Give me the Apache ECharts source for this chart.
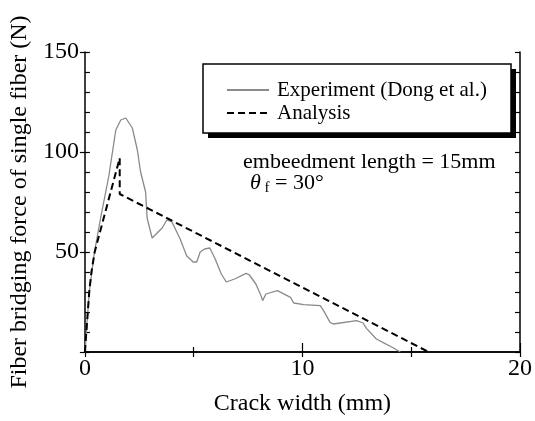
<!DOCTYPE html>
<html>
<head>
<meta charset="utf-8">
<script src="https://cdn.jsdelivr.net/npm/echarts@6/dist/echarts.min.js"></script>
<style>
  html, body { margin: 0; padding: 0; background: #fff; }
  #main { width: 535px; height: 421px; }
</style>
</head>
<body>
<div id="main"></div>
<script>
var dom = document.getElementById('main');
var chart = echarts.init(dom, null, { renderer: 'canvas' });

var FONT = '"Liberation Serif", "Times New Roman", serif';

// experiment (Dong et al.)
var expX = [0, 0.2, 0.44, 0.74, 1.1, 1.42, 1.65, 1.88, 2.18, 2.41, 2.56, 2.79, 2.86, 3.09, 3.55, 3.77, 4.0, 4.38, 4.68, 4.98, 5.14, 5.3, 5.5, 5.74, 5.97, 6.27, 6.5, 6.88, 7.41, 7.56, 7.86, 8.1, 8.17, 8.32, 8.85, 9.45, 9.6, 10.06, 10.82, 10.97, 11.27, 11.42, 12.49, 12.79, 12.94, 13.4, 13.8, 14.1, 14.5];
var expY = [0, 30, 50, 68, 88, 111, 116, 117, 112, 101, 90, 80, 67, 57, 62, 66, 65, 56.5, 48, 45, 45, 50, 51.5, 52, 47, 39, 35, 36.5, 39.3, 38.5, 34, 28, 25.7, 29, 30.7, 27.3, 24.5, 23.7, 23.2, 20.7, 14.8, 14, 15.7, 14.5, 11.8, 6.5, 4.2, 2.5, 0];

// analysis
var anaX = [0, 0.1, 0.2, 0.3, 0.45, 1.6, 1.6, 15.8];
var anaY = [0, 15, 30, 40, 50, 97, 79, 0];

var xTicks = [0, 10, 20];
var yTicks = [50, 100, 150];

function pairs(xs, ys) {
  var out = [];
  for (var i = 0; i < xs.length; i++) out.push([xs[i], ys[i]]);
  return out;
}

var axisLine = { show: true, lineStyle: { color: '#000', width: 1.5 } };
var tickStyle = { color: '#000', width: 1.2 };

var option = {
  animation: false,
  backgroundColor: '#fff',
  textStyle: { fontFamily: FONT },
  grid: { left: 82, right: 13, top: 52, bottom: 68 },
  xAxis: [
    {
      type: 'value', position: 'bottom', min: 0, max: 20, interval: 10,
      name: 'Crack width (mm)', nameLocation: 'middle', nameGap: 40,
      nameTextStyle: { fontFamily: FONT, fontSize: 24, color: '#000' },
      axisLine: axisLine,
      axisTick: { inside: true, length: 9, lineStyle: tickStyle },
      minorTick: { show: true, splitNumber: 2, length: 5, lineStyle: tickStyle },
      axisLabel: {
        fontFamily: FONT, fontSize: 24, color: '#000', margin: 5,
        formatter: function (v) { return xTicks.indexOf(v) >= 0 ? String(v) : ''; }
      },
      splitLine: { show: false }
    },
    {
      type: 'value', position: 'top', min: 0, max: 20, interval: 5,
      axisLine: axisLine,
      axisTick: { inside: true, length: 5, lineStyle: tickStyle },
      axisLabel: { show: false },
      splitLine: { show: false }
    }
  ],
  yAxis: [
    {
      type: 'value', position: 'left', min: 0, max: 150, interval: 50,
      name: 'Fiber bridging force of single fiber (N)', nameLocation: 'middle', nameGap: 48,
      nameTextStyle: { fontFamily: FONT, fontSize: 24, color: '#000' },
      axisLine: axisLine,
      axisTick: { inside: false, length: 5, lineStyle: tickStyle },
      axisLabel: {
        fontFamily: FONT, fontSize: 24, color: '#000', margin: 6,
        formatter: function (v) { return yTicks.indexOf(v) >= 0 ? String(v) : ''; }
      },
      splitLine: { show: false }
    },
    {
      type: 'value', position: 'left', min: 0, max: 150, interval: 10,
      axisLine: { show: false },
      axisTick: { inside: true, length: 5, lineStyle: tickStyle },
      axisLabel: { show: false },
      splitLine: { show: false }
    },
    {
      type: 'value', position: 'right', min: 0, max: 150, interval: 10,
      axisLine: axisLine,
      axisTick: { inside: true, length: 5, lineStyle: tickStyle },
      axisLabel: { show: false },
      splitLine: { show: false }
    }
  ],
  legend: {
    z: 10,
    orient: 'vertical',
    left: 203, top: 65,
    padding: [14, 22, 10, 23],
    itemGap: 1,
    itemWidth: 42, itemHeight: 12,
    textStyle: { fontFamily: FONT, fontSize: 21, color: '#000', lineHeight: 22, padding: [0, 0, 0, 3] },
    data: [
      { name: 'Experiment (Dong et al.)', itemStyle: { opacity: 0 } },
      { name: 'Analysis', itemStyle: { opacity: 0 } }
    ]
  },
  graphic: [
    // legend frame with its solid drop shadow
    {
      type: 'rect', z: 8, silent: true,
      shape: { x: 208, y: 69, width: 308, height: 69 },
      style: { fill: '#000' }
    },
    {
      type: 'rect', z: 9, silent: true,
      shape: { x: 203, y: 64, width: 308, height: 69 },
      style: { fill: '#fff', stroke: '#000', lineWidth: 1.5 }
    },
    {
      type: 'text', left: 243, top: 151,
      style: { text: 'embeedment length = 15mm', font: '22px ' + FONT, fill: '#000' }
    },
    {
      type: 'text', left: 250, top: 172,
      style: {
        text: '{t|θ}{s| f}{n| = 30°}',
        fill: '#000',
        rich: {
          t: { fontFamily: FONT, fontSize: 22, fontStyle: 'italic', fill: '#000' },
          s: { fontFamily: FONT, fontSize: 15, fill: '#000', padding: [10, 0, 0, 0] },
          n: { fontFamily: FONT, fontSize: 22, fill: '#000' }
        }
      }
    }
  ],
  series: [
    {
      name: 'Experiment (Dong et al.)',
      type: 'line',
      data: pairs(expX, expY),
      showSymbol: false,
      symbol: 'none',
      lineStyle: { color: '#8a8a8a', width: 1.3 },
      itemStyle: { color: '#8a8a8a' }
    },
    {
      name: 'Analysis',
      type: 'line',
      data: pairs(anaX, anaY),
      showSymbol: false,
      symbol: 'none',
      lineStyle: { color: '#000', width: 2, type: [7, 4] },
      itemStyle: { color: '#000' }
    }
  ]
};

chart.setOption(option);
window.addEventListener('resize', chart.resize);
</script>
</body>
</html>
